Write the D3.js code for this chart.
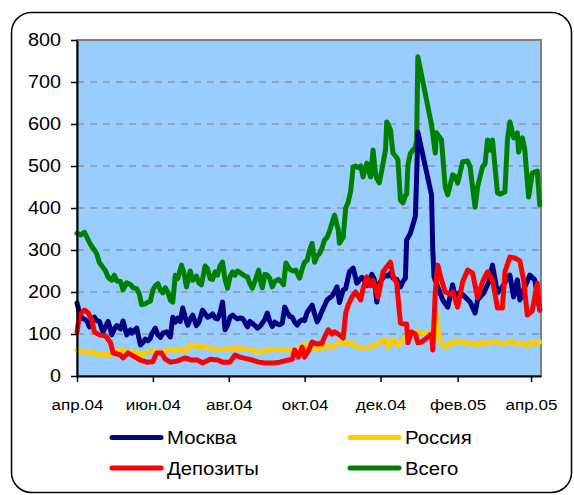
<!DOCTYPE html>
<html>
<head>
<meta charset="utf-8">
<script src="https://cdn.jsdelivr.net/npm/d3@7"></script>
<style>
  body { margin: 0; background: #fff; }
  svg { display: block; }
  text { font-family: "Liberation Sans", Arial, sans-serif; fill: #000; }
</style>
</head>
<body>
<div class="graph"></div>
<script>
// days counted from 1 Apr 2004, value
var moskva = [[0,174],[2,150],[4,138],[6,135],[8,131],[10,117],[12,128],[14,140],[16,132],[18,130],[20,112],[21,105],[23,118],[25,130],[27,110],[28,98],[30,112],[32,120],[35,112],[37,131],[40,98],[43,110],[44,102],[46,108],[48,114],[51,74],[53,80],[55,88],[57,84],[59,90],[60,100],[63,114],[65,98],[67,92],[69,102],[72,105],[75,93],[77,140],[79,128],[81,138],[83,130],[85,162],[87,140],[89,121],[91,135],[93,145],[96,120],[98,128],[101,157],[103,148],[105,140],[107,143],[109,148],[111,138],[113,136],[115,150],[117,176],[119,110],[121,121],[123,140],[125,145],[127,140],[129,136],[131,138],[133,137],[135,128],[137,117],[139,130],[141,125],[143,120],[145,114],[147,118],[149,126],[151,135],[153,150],[155,130],[157,118],[159,128],[161,124],[163,122],[165,126],[167,164],[169,152],[171,142],[173,140],[175,128],[177,121],[179,130],[181,134],[183,132],[185,152],[187,160],[189,169],[191,148],[193,129],[195,140],[197,155],[199,168],[201,181],[203,186],[205,190],[207,200],[209,212],[211,175],[214,205],[216,208],[217,222],[219,248],[222,257],[225,221],[228,232],[229,235],[231,228],[233,215],[235,225],[237,242],[239,230],[241,176],[243,220],[245,230],[248,240],[250,238],[252,245],[254,233],[257,230],[260,212],[262,225],[264,233],[265,324],[268,340],[270,360],[272,380],[273,470],[274,581],[285,431],[286,300],[287,236],[290,212],[294,181],[298,164],[302,217],[304,188],[308,200],[312,188],[316,176],[320,150],[322,181],[327,198],[331,224],[334,264],[338,198],[342,212],[346,233],[348,240],[351,188],[354,229],[356,181],[360,212],[364,240],[368,229],[372,157]];

var rossiya = [[0,62],[5,57],[10,58],[16,52],[21,52],[27,50],[32,60],[37,60],[43,57],[48,57],[52,50],[57,57],[61,60],[67,57],[71,60],[75,64],[79,60],[83,64],[87,60],[91,74],[96,70],[101,70],[107,67],[113,62],[117,64],[123,64],[125,64],[129,67],[135,64],[141,62],[146,57],[151,60],[157,64],[162,62],[167,64],[173,60],[178,64],[183,76],[187,64],[191,64],[197,67],[202,71],[207,71],[211,81],[215,76],[219,81],[224,71],[229,67],[234,67],[240,74],[245,81],[248,88],[250,69],[254,86],[258,74],[261,81],[264,93],[266,102],[270,105],[276,103],[284,102],[286,105],[289,145],[291,88],[293,79],[296,69],[298,71],[302,83],[306,79],[310,83],[314,76],[318,79],[322,74],[326,81],[330,76],[334,83],[338,81],[342,76],[346,79],[350,83],[354,76],[358,79],[362,71],[366,81],[370,76],[372,81]];

var depozity = [[0,105],[2,145],[6,157],[9,150],[12,133],[14,105],[18,98],[23,95],[27,79],[29,55],[35,50],[37,43],[41,55],[45,48],[51,38],[56,33],[61,34],[64,55],[68,55],[71,40],[75,33],[80,35],[87,43],[92,38],[97,38],[101,31],[107,40],[113,38],[117,33],[123,33],[127,50],[131,45],[135,42],[141,38],[146,33],[151,31],[158,31],[163,33],[167,36],[173,40],[175,62],[178,45],[181,69],[183,45],[186,60],[189,81],[193,76],[197,78],[199,93],[202,110],[205,100],[207,105],[211,98],[214,90],[216,150],[218,169],[221,188],[224,200],[228,181],[230,209],[233,236],[236,215],[238,228],[242,188],[246,248],[249,260],[252,271],[254,238],[257,221],[260,126],[262,124],[265,124],[266,79],[269,105],[272,100],[274,79],[277,81],[281,90],[285,100],[286,62],[288,198],[290,264],[293,229],[296,200],[300,195],[302,200],[306,164],[310,224],[314,252],[318,245],[322,186],[326,224],[330,248],[334,229],[338,162],[342,162],[344,248],[348,283],[352,281],[356,274],[359,229],[362,145],[366,155],[370,221],[372,157]];

var vsego = [[0,340],[3,336],[6,342],[8,330],[10,318],[12,308],[14,300],[16,290],[18,270],[20,262],[23,250],[25,235],[28,228],[30,240],[32,226],[35,225],[37,205],[40,222],[43,218],[45,210],[48,208],[50,196],[52,170],[55,172],[57,176],[59,178],[61,205],[63,215],[65,220],[67,205],[69,198],[71,210],[73,200],[75,181],[77,176],[79,240],[81,232],[84,264],[86,245],[88,212],[91,250],[93,228],[96,238],[98,222],[100,217],[103,262],[105,255],[107,232],[109,230],[111,248],[113,240],[115,262],[117,271],[119,230],[121,209],[123,236],[125,248],[127,240],[129,250],[131,246],[133,242],[135,238],[137,236],[139,220],[141,209],[143,225],[146,252],[148,220],[149,210],[151,242],[153,240],[155,232],[157,212],[159,225],[162,230],[164,225],[166,217],[168,269],[170,258],[172,252],[174,250],[176,252],[178,238],[179,233],[181,255],[183,271],[185,275],[187,300],[189,316],[191,271],[193,285],[195,292],[197,305],[199,324],[201,330],[203,345],[205,364],[207,383],[209,360],[210,348],[211,316],[214,330],[216,400],[218,414],[220,440],[222,498],[224,500],[226,496],[228,500],[230,474],[233,507],[236,474],[238,538],[240,480],[241,470],[243,460],[245,490],[248,538],[249,605],[252,586],[254,531],[257,520],[258,514],[260,419],[262,412],[264,430],[265,433],[266,502],[268,530],[270,538],[272,545],[273,560],[274,760],[285,598],[288,531],[289,579],[293,562],[296,450],[298,431],[302,479],[304,475],[306,459],[310,510],[314,512],[316,498],[320,402],[322,450],[326,498],[328,505],[330,562],[332,538],[334,562],[338,436],[340,433],[344,438],[346,562],[348,605],[351,567],[354,579],[355,533],[358,567],[360,538],[363,426],[366,483],[370,488],[372,407]];

var seriesNames = ["Москва", "Россия", "Депозиты", "Всего"];
var seriesColors = ["#000080", "#FFCC00", "#FF0000", "#008000"];
var tickDates = ["2004-04-01", "2004-06-01", "2004-08-01", "2004-10-01", "2004-12-01", "2005-02-01", "2005-04-01"];
var tickLabels = ["апр.04", "июн.04", "авг.04", "окт.04", "дек.04", "фев.05", "апр.05"];
var yTicks = [0, 100, 200, 300, 400, 500, 600, 700, 800];

var start = new Date(2004, 3, 1);
var parse = d3.timeParse("%Y-%m-%d");

var svg = d3.select(".graph").append("svg")
    .attr("width", 574)
    .attr("height", 495);

// outer frame
svg.append("rect")
    .attr("x", 11.5).attr("y", 12.5)
    .attr("width", 560).attr("height", 480)
    .attr("rx", 20).attr("ry", 20)
    .attr("fill", "#fff")
    .attr("stroke", "#000")
    .attr("stroke-width", 1.5);

var x = d3.scaleTime()
    .domain([start, d3.timeDay.offset(start, 373)])
    .range([77, 541]);
var y = d3.scaleLinear().domain([0, 800]).range([376, 40]);

// plot area
svg.append("rect")
    .attr("x", x.range()[0]).attr("y", y(800))
    .attr("width", x.range()[1] - x.range()[0])
    .attr("height", y(0) - y(800))
    .attr("fill", "#99CCFF")
    .attr("stroke", "#808080")
    .attr("stroke-width", 2);

svg.append("g")
    .selectAll("line")
    .data(yTicks.filter(function (d) { return d > 0 && d < 800; }))
    .enter().append("line")
    .attr("x1", x.range()[0]).attr("x2", x.range()[1])
    .attr("y1", function (d) { return y(d); })
    .attr("y2", function (d) { return y(d); })
    .attr("stroke", "#808080")
    .attr("stroke-width", 1)
    .attr("stroke-dasharray", "7,6");

var line = d3.line()
    .x(function (d) { return x(d3.timeDay.offset(start, d[0])); })
    .y(function (d) { return y(d[1]); });

var drawOrder = [[vsego, 3], [rossiya, 1], [moskva, 0], [depozity, 2]];
drawOrder.forEach(function (s) {
    svg.append("path")
        .datum(s[0])
        .attr("fill", "none")
        .attr("stroke", seriesColors[s[1]])
        .attr("stroke-width", 5)
        .attr("stroke-linejoin", "round")
        .attr("stroke-linecap", "round")
        .attr("d", line);
});

// axes
var gx = svg.append("g")
    .attr("transform", "translate(0," + y(0) + ")")
    .call(d3.axisBottom(x)
        .tickValues(tickDates.map(parse))
        .tickFormat(function (d, i) { return tickLabels[i]; })
        .tickSize(6)
        .tickPadding(17)
        .tickSizeOuter(0));
gx.select(".domain").attr("stroke", "#000").attr("stroke-width", 2);
gx.selectAll(".tick line").attr("stroke", "#000").attr("stroke-width", 1.5);
gx.selectAll(".tick text")
    .attr("font-size", "15.5px")
    .attr("font-family", "Liberation Sans, Arial, sans-serif")
    .attr("transform", "scale(1.1,1)");

var gy = svg.append("g")
    .attr("transform", "translate(" + x.range()[0] + ",0)")
    .call(d3.axisLeft(y)
        .tickValues(yTicks)
        .tickSize(6)
        .tickPadding(8.5)
        .tickSizeOuter(0));
gy.select(".domain").attr("stroke", "#000").attr("stroke-width", 2);
gy.selectAll(".tick line").attr("stroke", "#000").attr("stroke-width", 1.5);
gy.selectAll(".tick text")
    .attr("font-size", "18px")
    .attr("font-family", "Liberation Sans, Arial, sans-serif")
    .attr("transform", "scale(1.1,1)");

// legend
var legendPos = [[112, 437.5], [350, 437.5], [112, 468], [350, 468]];
seriesNames.forEach(function (name, i) {
    var p = legendPos[i];
    svg.append("line")
        .attr("x1", p[0]).attr("x2", p[0] + 49)
        .attr("y1", p[1]).attr("y2", p[1])
        .attr("stroke", seriesColors[i])
        .attr("stroke-width", 5)
        .attr("stroke-linecap", "round");
    svg.append("text")
        .attr("transform", "translate(" + (p[0] + 55) + "," + (p[1] + 6.5) + ") scale(1.1,1)")
        .attr("font-size", "18.5px")
        .text(name);
});
</script>
</body>
</html>
